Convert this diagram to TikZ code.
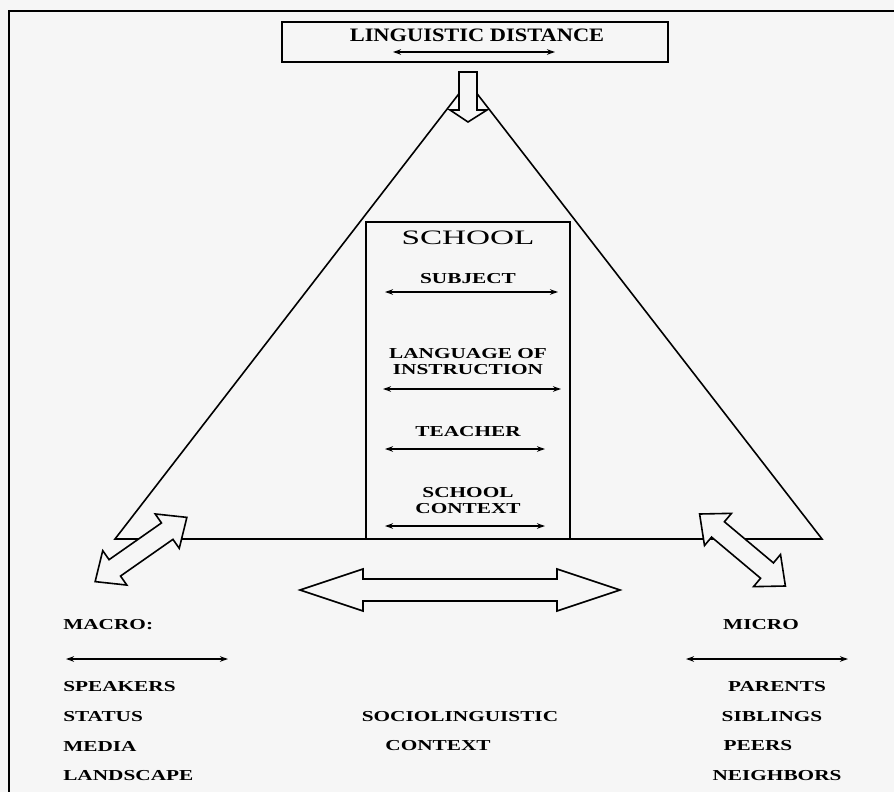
\documentclass[tikz,border=0pt]{standalone}
\usepackage{fontspec}
\setmainfont{Liberation Serif}
\usetikzlibrary{arrows.meta}
\definecolor{paper}{RGB}{246,246,246}

% block double arrow: centre, angle, half length, head half width, shaft half width, head length
\newcommand{\blockdbl}[6]{%
  \begin{scope}[shift={#1}, rotate=#2]
    \draw[fill=paper, line width=1.6pt, line join=miter]
      (-#3,0) -- (-#3+#6,#4) -- (-#3+#6,#5) -- (#3-#6,#5) -- (#3-#6,#4) -- (#3,0)
      -- (#3-#6,-#4) -- (#3-#6,-#5) -- (-#3+#6,-#5) -- (-#3+#6,-#4) -- cycle;
  \end{scope}}

\begin{document}
\begin{tikzpicture}[x=1pt, y=-1pt,
    lbl/.style={font=\bfseries\fontsize{15.2}{16}\selectfont, xscale=1.40, inner sep=0pt, align=center},
    dist/.style={{Stealth[length=8pt,width=5.5pt]}-{Stealth[length=8pt,width=5.5pt]}, line width=1.5pt}]
    \fill[paper] (0,0) rectangle (894,792);
    \useasboundingbox (0,0) rectangle (894,792);
    % frame
    \draw[line width=1.8pt] (9,792) -- (9,11) -- (894,11);

    % triangle
    \coordinate (apex) at (468,82);
    \coordinate (lft) at (115,539);
    \coordinate (rgt) at (822,539);
    \draw[line width=1.6pt, line join=miter] (lft) -- (apex) -- (rgt) -- cycle;

    % school box
    \node[draw, line width=1.8pt, fill=paper, minimum width=204pt, minimum height=317pt, inner sep=0pt] (schoolbox) at (468,380.5) {};
    \node[font=\fontsize{20.5}{22}\selectfont, xscale=1.62, inner sep=0pt] (school) at (468,238) {SCHOOL};
    \node[lbl] (subject) at (468,279) {SUBJECT};
    \node[lbl] (langinst) at (468,362) {LANGUAGE OF\\INSTRUCTION};
    \node[lbl] (teacher) at (468,432) {TEACHER};
    \node[lbl] (schctx) at (468,500.5) {SCHOOL\\CONTEXT};
    \foreach \n/\y/\xa/\xb in {sub/292/385/558, lan/389/383/561, tea/449/385/545, ctx/526/385/545} {
        \coordinate (\n l) at (\xa,\y);
        \coordinate (\n r) at (\xb,\y);
        \draw[dist] (\n l) -- (\n r);
    }

    % double block arrows
    \blockdbl{(141,549.5)}{35}{56}{21}{10}{24}
    \blockdbl{(742.5,550)}{-40}{56}{21}{10}{24}
    \blockdbl{(460,590)}{0}{160}{21}{11}{63}

    % linguistic distance
    \node[draw, line width=1.8pt, fill=paper, minimum width=386pt, minimum height=40pt, inner sep=0pt] (ldbox) at (475,42) {};
    \node[font=\bfseries\fontsize{19}{21}\selectfont, xscale=1.18, inner sep=0pt] (ldtext) at (477,35) {LINGUISTIC DISTANCE};
    \coordinate (ldl) at (393,52);
    \coordinate (ldr) at (555,52);
    \draw[dist] (ldl) -- (ldr);
    \draw[fill=paper, line width=1.6pt, line join=miter] (459,72) -- (477,72) -- (477,110) -- (487,110)
        -- (468,122) -- (450,110) -- (459,110) -- cycle;

    % macro
    \node[lbl, anchor=west] (macro) at (63,625) {MACRO:};
    \coordinate (mal) at (66,659);
    \coordinate (mar) at (228,659);
    \draw[dist] (mal) -- (mar);
    \node[lbl, anchor=west] (speakers) at (63,687) {SPEAKERS};
    \node[lbl, anchor=west] (status) at (63,717) {STATUS};
    \node[lbl, anchor=west] (media) at (63,746) {MEDIA};
    \node[lbl, anchor=west] (landscape) at (63,776) {LANDSCAPE};

    % sociolinguistic context
    \node[lbl] (socio) at (460,717) {SOCIOLINGUISTIC};
    \node[lbl] (context) at (438,746) {CONTEXT};

    % micro
    \node[lbl] (micro) at (761,625) {MICRO};
    \coordinate (mil) at (686,659);
    \coordinate (mir) at (848,659);
    \draw[dist] (mil) -- (mir);
    \node[lbl] (parents) at (777,687) {PARENTS};
    \node[lbl] (siblings) at (772,717) {SIBLINGS};
    \node[lbl] (peers) at (758,746) {PEERS};
    \node[lbl] (neighbors) at (777,776) {NEIGHBORS};
\end{tikzpicture}
\end{document}
